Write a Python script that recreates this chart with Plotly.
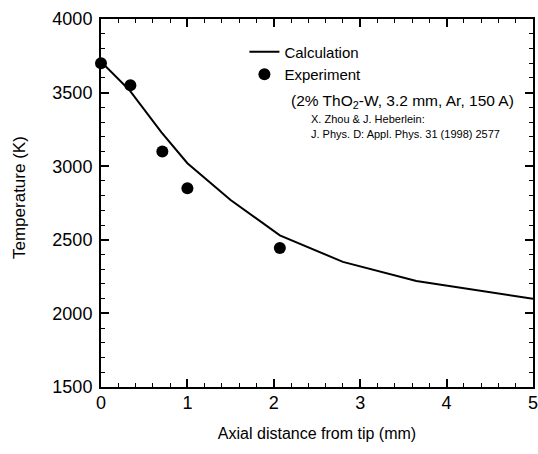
import plotly.graph_objects as go

# Calculated axial temperature profile (mm, K)
calc_x = [0.0, 0.33, 0.7, 1.0, 1.5, 2.07, 2.8, 3.65, 5.0]
calc_t = [3710, 3516, 3230, 3020, 2770, 2530, 2350, 2220, 2100]

# Measured temperatures (mm, K)
exp_x = [0.0, 0.34, 0.71, 1.0, 2.07]
exp_t = [3700, 3550, 3100, 2850, 2445]

font_main = "Liberation Sans, Arial, Helvetica, sans-serif"

fig = go.Figure()
fig.add_trace(go.Scatter(
    x=calc_x, y=calc_t, mode="lines", name="Calculation",
    line=dict(color="black", width=2), cliponaxis=False))
fig.add_trace(go.Scatter(
    x=exp_x, y=exp_t, mode="markers", name="Experiment",
    marker=dict(color="black", size=12), cliponaxis=False))

axis_common = dict(
    showgrid=False, zeroline=False, showline=True, linecolor="black",
    linewidth=2, mirror="ticks", ticks="inside", ticklen=8, tickwidth=1.5,
    tickcolor="black", tickfont=dict(size=18, color="black", family=font_main),
    automargin=False, ticklabeloverflow="allow",
)

fig.update_xaxes(
    range=[0, 5], dtick=1, tick0=0, ticklabelstandoff=-2,
    title=dict(text="Axial distance from tip (mm)",
               font=dict(size=16, color="black", family=font_main), standoff=16),
    minor=dict(dtick=0.2, ticks="inside", ticklen=4, tickcolor="black", tickwidth=1.2),
    **axis_common)
fig.update_yaxes(
    range=[1500, 4000], dtick=500, tick0=1500, ticklabelstandoff=3,
    minor=dict(dtick=100, ticks="inside", ticklen=4, tickcolor="black", tickwidth=1.2),
    **axis_common)

fig.update_layout(
    width=538, height=454,
    margin=dict(l=101, r=5, t=19, b=67),
    paper_bgcolor="white", plot_bgcolor="white",
    font=dict(family=font_main, color="black"),
    legend=dict(x=0.332, y=0.955, xanchor="left", yanchor="top",
                bgcolor="rgba(0,0,0,0)", font=dict(size=15, color="black"),
                tracegroupgap=2, itemwidth=30),
    annotations=[
        dict(text="Temperature (K)", xref="paper", yref="paper", textangle=-90,
             x=(19 - 101) / 432, y=(387 - 198) / 368, xanchor="center", yanchor="middle",
             showarrow=False, font=dict(size=17, color="black")),
        dict(text="(2% ThO<sub>2</sub>-W, 3.2 mm, Ar, 150 A)", xref="paper", yref="paper",
             x=(289 - 101) / 432, y=(387 - 102) / 368, xanchor="left", yanchor="middle",
             showarrow=False, font=dict(size=15.5, color="black")),
        dict(text="X. Zhou &amp; J. Heberlein:", xref="paper", yref="paper",
             x=(309 - 101) / 432, y=(387 - 119) / 368, xanchor="left", yanchor="middle",
             showarrow=False, font=dict(size=11, color="black")),
        dict(text="J. Phys. D: Appl. Phys. 31 (1998) 2577", xref="paper", yref="paper",
             x=(309 - 101) / 432, y=(387 - 134) / 368, xanchor="left", yanchor="middle",
             showarrow=False, font=dict(size=11, color="black")),
    ],
)

fig.write_html("out.html")
